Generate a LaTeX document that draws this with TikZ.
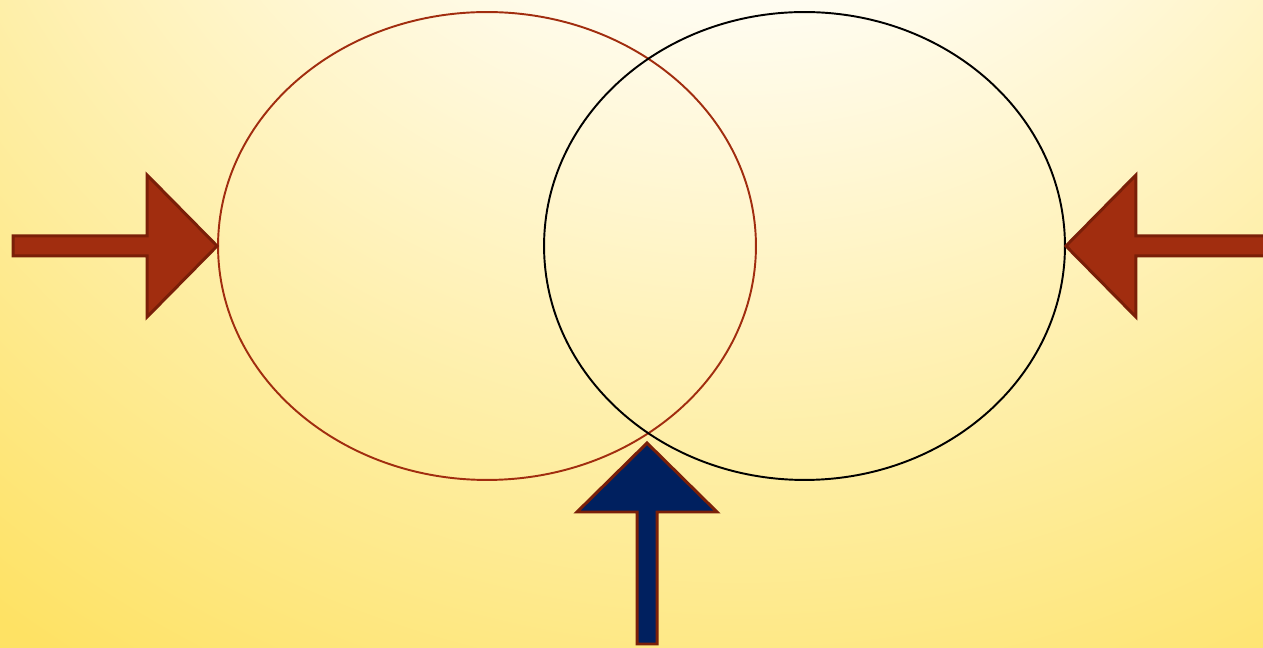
\documentclass[tikz,border=0pt]{standalone}
\usepackage{xcolor}
\usepackage{tikz}
\usetikzlibrary{shapes.geometric}
\definecolor{rustred}{RGB}{161,45,15}
\definecolor{rustdark}{RGB}{122,31,8}
\definecolor{deepnavy}{RGB}{0,32,95}
\definecolor{paleyellow}{RGB}{254,226,100}
\definecolor{glowwhite}{RGB}{255,254,250}
% 25bp of the shading is fitted to the radius (1300 units) of the circle below
\pgfdeclareradialshading{bgglow}{\pgfpoint{0bp}{0bp}}{%
  color(0bp)=(glowwhite); color(6.7bp)=(glowwhite);
  color(24.2bp)=(paleyellow); color(50bp)=(paleyellow)}

\begin{document}
\begin{tikzpicture}[
      x=0.02cm, y=0.02cm,
      ring/.style={draw=#1, ellipse, line width=1.1pt, inner sep=0pt,
                   minimum height=9.36cm},
      blockarr/.style={draw=rustdark, fill=#1, line width=1.7pt, line join=miter}
  ]
    \useasboundingbox (0,0) rectangle (1263,648);
    \clip (0,0) rectangle (1263,648);
    % background
    \shade[shading=bgglow] (740,1048) circle (1300);

    \node[ring=rustred, minimum width=10.76cm] (lft) at (487,402) {};
    \node[ring=black,   minimum width=10.42cm] (rgt) at (804.5,402) {};

    % arrows pointing in
    \draw[blockarr=rustred] (lft.west) -- ++(-70,71) -- ++(0,-61) -- ++(-134,0)
      -- ++(0,-20) -- ++(134,0) -- ++(0,-61) -- cycle;
    \draw[blockarr=rustred] (rgt.east) -- ++(70,71) -- ++(0,-61) -- ++(140,0)
      -- ++(0,-20) -- ++(-140,0) -- ++(0,-61) -- cycle;
    \draw[blockarr=deepnavy] (647,205) coordinate (tip) -- ++(70,-69) -- ++(-60,0)
      -- ++(0,-132) -- ++(-20,0) -- ++(0,132) -- ++(-60,0) -- cycle;
  \end{tikzpicture}
\end{document}
